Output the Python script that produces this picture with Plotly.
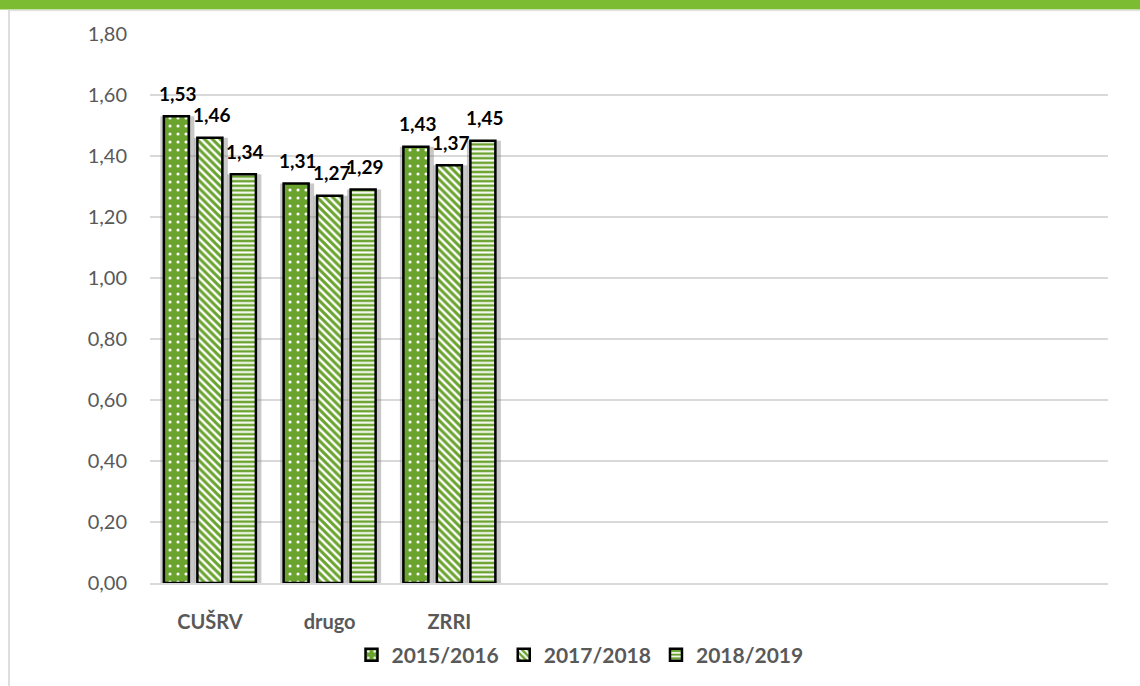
import plotly.graph_objects as go

categories = ["CUŠRV", "drugo", "ZRRI"]
series_names = ["2015/2016", "2017/2018", "2018/2019"]
values_2015 = [1.53, 1.31, 1.43]
values_2017 = [1.46, 1.27, 1.37]
values_2018 = [1.34, 1.29, 1.45]
series_values = [values_2015, values_2017, values_2018]
y_ticks = [0, 0.2, 0.4, 0.6, 0.8, 1.0, 1.2, 1.4, 1.6, 1.8]

W, H = 1140, 686
ML, MR, MT, MB = 150, 32, 34, 102
PW, PH = W - ML - MR, H - MT - MB
N_SLOTS = 8
slot_px = PW / N_SLOTS
bar_px = 25
pitch_px = 33.5

GREEN = "#6aa32e"
GRAY_TXT = "#595959"
FONT = "Lato, 'Open Sans', sans-serif"

pattern_styles = [
    dict(shape=".", size=8, solidity=0.12),
    dict(shape="\\", size=5.5, solidity=0.45),
    dict(shape="-", size=4.6, solidity=0.45),
]

fig = go.Figure()

bw = bar_px / slot_px
pitch = pitch_px / slot_px
shadow_extra = 9 / slot_px

for i, (name, vals) in enumerate(zip(series_names, series_values)):
    off = (i - 1) * pitch - bw / 2
    fig.add_trace(go.Bar(
        x=categories, y=vals, width=shadow_extra + bw, offset=off - shadow_extra / 2 + 1 / slot_px,
        marker=dict(color="rgba(120,120,120,0.4)", line=dict(width=0)),
        showlegend=False, hoverinfo="skip",
    ))

for i, (name, vals) in enumerate(zip(series_names, series_values)):
    off = (i - 1) * pitch - bw / 2
    fig.add_trace(go.Bar(
        x=categories, y=vals, name=name, width=bw, offset=off,
        marker=dict(
            color=GREEN,
            line=dict(color="black", width=2.5),
            pattern=dict(fillmode="overlay", fgcolor="white", fgopacity=1, **pattern_styles[i]),
        ),
    ))
    for c, v in zip(categories, vals):
        fig.add_annotation(
            x=c, y=v, xref="x", yref="y", text=f"{v:.2f}".replace(".", ","),
            showarrow=False, xshift=(i - 1) * pitch_px + 2, yshift=23,
            font=dict(family=FONT, size=19, color="black", weight="bold"),
        )

# decorations: top green band, line beneath, left border
fig.add_shape(type="rect", xref="paper", yref="paper",
              x0=-0.2, x1=1.1, y0=(PH + MT - 9.5) / PH, y1=(PH + MT + 10) / PH,
              fillcolor="#7cbc33", line=dict(width=0), layer="above")
fig.add_shape(type="line", xref="paper", yref="paper",
              x0=(9 - ML) / PW, x1=1.1, y0=(PH + MT - 10.5) / PH, y1=(PH + MT - 10.5) / PH,
              line=dict(color="#e3e3e3", width=1.5))
fig.add_shape(type="line", xref="paper", yref="paper",
              x0=(9 - ML) / PW, x1=(9 - ML) / PW, y0=(PH + MT - 10) / PH, y1=-0.3,
              line=dict(color="#dedede", width=2))

fig.update_layout(
    width=W, height=H,
    margin=dict(l=ML, r=MR, t=MT, b=MB, pad=0),
    paper_bgcolor="white", plot_bgcolor="white",
    barmode="overlay",
    separators=",.",
    font=dict(family=FONT, color=GRAY_TXT),
    showlegend=True,
    legend=dict(orientation="h", x=(580 - ML) / PW, xanchor="center",
                y=(MT + PH - 655) / PH, yanchor="middle",
                font=dict(family=FONT, size=21, color=GRAY_TXT, weight="bold"),
                itemwidth=30, traceorder="normal"),
    xaxis=dict(
        type="category", range=[-0.5, N_SLOTS - 0.5],
        showgrid=False, showline=True, linecolor="#d9d9d9", linewidth=2,
        ticks="", ticklabelstandoff=20,
        tickfont=dict(family=FONT, size=20, color=GRAY_TXT, weight="bold"),
    ),
    yaxis=dict(
        range=[0, 1.8], tickvals=y_ticks, tickformat=".2f",
        showgrid=True, gridcolor="#d9d9d9", gridwidth=1.5,
        zeroline=False, showline=False, ticks="", ticklabelstandoff=22,
        tickfont=dict(family=FONT, size=20, color=GRAY_TXT),
    ),
)

fig.write_html("out.html", config={"displayModeBar": False},
               post_script="document.body.style.margin='0px';")
